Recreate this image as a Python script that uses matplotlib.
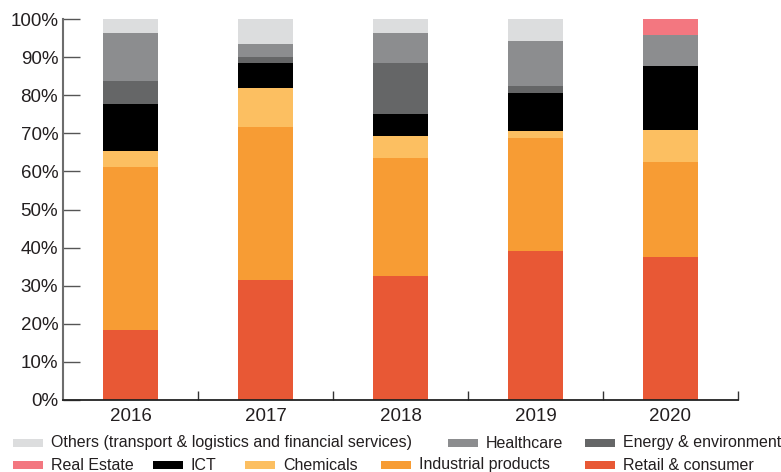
import numpy as np
import matplotlib.pyplot as plt
from matplotlib.patches import Rectangle

plt.rcParams['font.family'] = ['Liberation Sans', 'DejaVu Sans']

# quota per settore, in percentuale, dal basso verso l'alto
years = ['2016', '2017', '2018', '2019', '2020']
retail = [18.4, 31.5, 32.5, 39.1, 37.5]
industrial = [42.8, 40.2, 31.0, 29.7, 25.0]
chemicals = [4.2, 10.2, 5.8, 1.8, 8.4]
ict = [12.3, 6.6, 5.8, 10.0, 16.8]
energy = [6.0, 1.5, 13.4, 1.8, 0.0]
healthcare = [12.5, 3.4, 7.8, 11.8, 8.1]
real_estate = [0.0, 0.0, 0.0, 0.0, 4.2]
others = [3.8, 6.6, 3.7, 5.8, 0.0]

names = ['Retail & consumer', 'Industrial products', 'Chemicals', 'ICT',
         'Energy & environment', 'Healthcare', 'Real Estate',
         'Others (transport & logistics and financial services)']
series = [retail, industrial, chemicals, ict, energy, healthcare, real_estate, others]
colors = ['#E85835', '#F79C34', '#FCBF61', '#000000',
          '#656667', '#8C8D8F', '#F37780', '#DCDDDE']

txt = '#231F20'

fig = plt.figure(figsize=(7.81, 4.72), dpi=100)
ax = fig.add_axes([63/781, 1 - 400/472, 675/781, 381/472])

x = np.arange(len(years))
bottom = np.zeros(len(years))
for vals, col in zip(series, colors):
    vals = np.array(vals)
    ax.bar(x, vals, 0.41, bottom=bottom, color=col, linewidth=0)
    bottom += vals

ax.set_xlim(-0.5, len(years) - 0.5)
ax.set_ylim(0, 100)

ax.set_yticks(np.arange(0, 101, 10))
ax.set_yticklabels([f'{v}%' for v in range(0, 101, 10)])
ax.tick_params(axis='y', direction='in', length=12, width=1, color='#555555',
               labelsize=13.5, labelcolor=txt, pad=3.5)

ax.set_xticks(x)
ax.set_xticklabels(years)
ax.set_xticks(np.arange(0.5, len(years), 1), minor=True)
ax.tick_params(axis='x', which='major', length=0, labelsize=13.5, labelcolor=txt, pad=5.5)
ax.tick_params(axis='x', which='minor', direction='in', length=6.5, width=1, color='#333333')

for s in ['top', 'right']:
    ax.spines[s].set_visible(False)
ax.spines['left'].set_color('#6d6d6d')
ax.spines['left'].set_linewidth(1.5)
ax.spines['bottom'].set_color('#222222')
ax.spines['bottom'].set_linewidth(1.3)

# legenda su due righe, posizioni in pixel
legend_rows = [
    (443, [(13, 7), (448, 5), (585, 4)]),
    (465, [(13, 6), (153, 3), (245, 2), (381, 1), (585, 0)]),
]
W, H = 781, 472
for ypix, entries in legend_rows:
    for xpix, idx in entries:
        fig.patches.append(Rectangle((xpix / W, (H - ypix - 4) / H), 30 / W, 8 / H,
                                     transform=fig.transFigure, color=colors[idx], lw=0))
        fig.text((xpix + 38) / W, (H - ypix) / H, names[idx], fontsize=11.5,
                 color=txt, va='center', ha='left')

fig.savefig('out.png', dpi=100)
